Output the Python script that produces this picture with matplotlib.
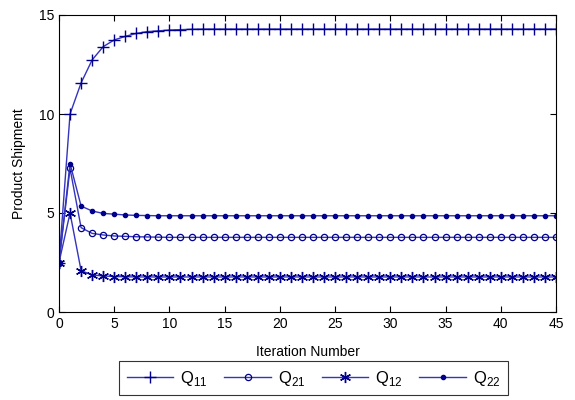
import matplotlib.pyplot as plt
import numpy as np

plt.rcParams['font.family'] = ['Liberation Sans', 'DejaVu Sans']
plt.rcParams['mathtext.fontset'] = 'custom'
plt.rcParams['mathtext.rm'] = 'Liberation Sans'

# iteration numbers 0..45
iters = list(range(46))

q11_head = [2.5, 10.0, 11.57, 12.73, 13.4, 13.74, 13.92, 14.07, 14.16, 14.2, 14.24, 14.26, 14.28]
q21_head = [2.5, 7.25, 4.26, 3.97, 3.89, 3.84, 3.82, 3.8, 3.79, 3.78]
q12_head = [2.5, 5.0, 2.09, 1.87, 1.82, 1.79, 1.78]
q22_head = [2.5, 7.5, 5.35, 5.1, 4.98, 4.94, 4.9, 4.88, 4.87]

q11 = q11_head + [14.29] * (46 - len(q11_head))
q21 = q21_head + [3.77] * (46 - len(q21_head))
q12 = q12_head + [1.77] * (46 - len(q12_head))
q22 = q22_head + [4.86] * (46 - len(q22_head))

labels = [r'Q$_{11}$', r'Q$_{21}$', r'Q$_{12}$', r'Q$_{22}$']

line_col = '#3434bc'
mark_col = '#00008c'

fig = plt.figure(figsize=(5.75, 4.0), dpi=100)
ax = fig.add_axes([0.1026, 0.22, 0.8644, 0.7425])

ax.plot(iters, q11, color=line_col, lw=1.0, marker='+', ms=9, mew=1.0,
        mec=mark_col, label=labels[0])
ax.plot(iters, q21, color=line_col, lw=1.0, marker='o', ms=4.5, mew=0.9,
        mec=mark_col, mfc='none', label=labels[1])
ax.plot(iters, q12, color=line_col, lw=1.0, marker=(6, 2, 0), ms=8, mew=1.0,
        mec=mark_col, label=labels[2])
ax.plot(iters, q22, color=line_col, lw=1.0, marker='.', ms=6,
        mec=mark_col, mfc=mark_col, label=labels[3])

ax.set_xlim(0, 45)
ax.set_ylim(0, 15)
ax.set_xticks(range(0, 46, 5))
ax.set_yticks([0, 5, 10, 15])
ax.tick_params(direction='in', top=True, right=True, labelsize=10, length=4, width=0.8)
for s in ax.spines.values():
    s.set_linewidth(0.8)

ax.set_xlabel('Iteration Number', fontsize=10, labelpad=10)
ax.set_ylabel('Product Shipment', fontsize=10, labelpad=9)

leg = fig.legend(loc='upper center', bbox_to_anchor=(0.545, 0.0975), ncol=4,
                 numpoints=1, fontsize=12, frameon=True, fancybox=False,
                 handlelength=2.8, columnspacing=1.0, handletextpad=0.4,
                 borderpad=0.45, borderaxespad=0)
leg.get_frame().set_edgecolor('black')
leg.get_frame().set_linewidth(0.8)

fig.savefig('out.png', dpi=100)
